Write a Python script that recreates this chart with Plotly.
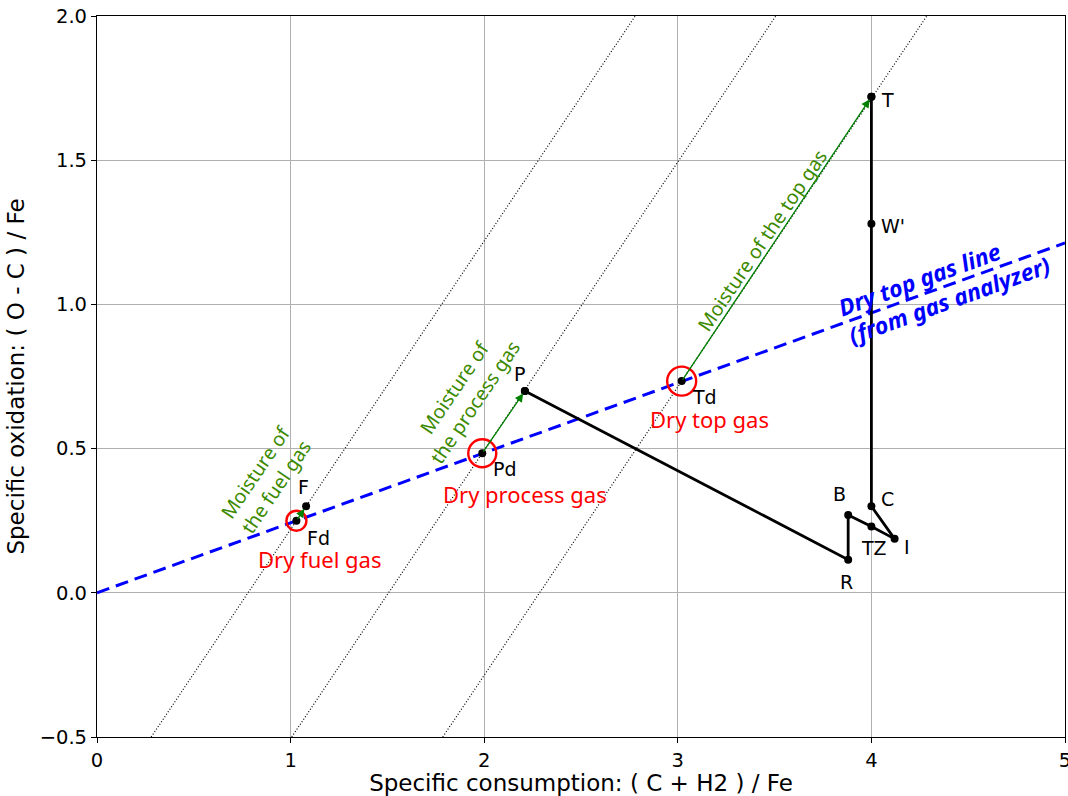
import plotly.graph_objects as go

# ---- data ----
path_labels = ["P", "R", "B", "TZ", "I", "C", "W'", "T"]
path_x = [2.21, 3.88, 3.88, 4.00, 4.12, 4.00, 4.00, 4.00]
path_y = [0.70, 0.115, 0.27, 0.23, 0.187, 0.30, 1.28, 1.72]

wet_labels = ["F", "P", "T"]
wet_x = [1.08, 2.21, 4.00]
wet_y = [0.30, 0.70, 1.72]

dry_labels = ["Fd", "Pd", "Td"]
dry_x = [1.03, 1.99, 3.02]
dry_y = [0.25, 0.484, 0.734]
dry_names = ["Dry fuel gas", "Dry process gas", "Dry top gas"]
dry_circle_size = [20, 28, 29]
moist_texts = ["Moisture of<br>the fuel gas", "Moisture of<br>the process gas", "Moisture of the top gas"]

dry_line_slope = 0.2426
x_range = [0, 5]
y_range = [-0.5, 2.0]
x_ticks = [0, 1, 2, 3, 4, 5]
y_ticks = [-0.5, 0.0, 0.5, 1.0, 1.5, 2.0]

LBL = "DejaVu Sans"
TXT = "Noto Sans"

fig = go.Figure()

# dotted iso-lines of slope 1 through dry points
for dx, dy in zip(dry_x, dry_y):
    c = dx - dy
    fig.add_trace(go.Scatter(x=[y_range[0] + c, y_range[1] + c], y=y_range, mode="lines",
                             line=dict(color="black", width=1.2, dash="1px,2px"), showlegend=False,
                             hoverinfo="skip"))

# dry top gas line
fig.add_trace(go.Scatter(x=x_range, y=[x_range[0] * dry_line_slope, x_range[1] * dry_line_slope],
                         mode="lines", line=dict(color="blue", width=3, dash="13px,7px"),
                         showlegend=False, hoverinfo="skip", cliponaxis=False))

# process path
fig.add_trace(go.Scatter(x=path_x, y=path_y, mode="lines+markers",
                         line=dict(color="black", width=2.8),
                         marker=dict(color="black", size=8), showlegend=False))

# wet and dry points
fig.add_trace(go.Scatter(x=wet_x, y=wet_y, mode="markers", marker=dict(color="black", size=8),
                         showlegend=False))
fig.add_trace(go.Scatter(x=dry_x, y=dry_y, mode="markers", marker=dict(color="black", size=8),
                         showlegend=False))
# red circles
fig.add_trace(go.Scatter(x=dry_x, y=dry_y, mode="markers",
                         marker=dict(symbol="circle-open", color="red", size=dry_circle_size,
                                     opacity=1, line=dict(width=2.4, color="red")),
                         showlegend=False))

ann = []
# moisture arrows
for dx, dy, wx, wy in zip(dry_x, dry_y, wet_x, wet_y):
    ann.append(dict(x=wx, y=wy, ax=dx, ay=dy, xref="x", yref="y", axref="x", ayref="y",
                    text="", showarrow=True, arrowhead=2, arrowsize=1.3, arrowwidth=1.3,
                    arrowcolor="green", standoff=3))

# point labels
label_shift = {"P": (-5, 17), "R": (-2, -22), "B": (-9, 21), "TZ": (3, -22), "I": (12, -8),
               "C": (16, 7), "W'": (22, -2), "T": (16, -3), "F": (-3, 19),
               "Fd": (22, -17), "Pd": (23, -16), "Td": (23, -16)}
all_pts = {}
for n, x, y in zip(path_labels, path_x, path_y):
    all_pts[n] = (x, y)
for n, x, y in zip(wet_labels, wet_x, wet_y):
    all_pts[n] = (x, y)
for n, x, y in zip(dry_labels, dry_x, dry_y):
    all_pts[n] = (x, y)
for n, (sx, sy) in label_shift.items():
    x, y = all_pts[n]
    ann.append(dict(x=x, y=y, xref="x", yref="y", text=n, showarrow=False, xshift=sx, yshift=sy,
                    font=dict(family=LBL, size=19, color="black")))

# red dry-gas labels
red_shift = [(23, -38), (43, -41), (28, -38)]
for name, x, y, (sx, sy) in zip(dry_names, dry_x, dry_y, red_shift):
    ann.append(dict(x=x, y=y, xref="x", yref="y", text=name, showarrow=False, xshift=sx, yshift=sy,
                    font=dict(family=TXT, size=22, color="red")))

# green moisture texts
green_shift = [(-31, 42), (-18, 58), (80, 141)]
for t, x, y, (sx, sy) in zip(moist_texts, dry_x, dry_y, green_shift):
    ann.append(dict(x=x, y=y, xref="x", yref="y", text=t, showarrow=False, xshift=sx, yshift=sy,
                    textangle=-56, font=dict(family=TXT, size=19.5, color="#3c8a00")))

# blue line label
ann.append(dict(x=4.5, y=4.5 * dry_line_slope, xref="x", yref="y",
                text="<b><i>Dry top gas line<br>(from gas analyzer)</i></b>", showarrow=False,
                xshift=-24, yshift=-8, textangle=-20, align="left",
                font=dict(family=TXT, size=23, color="blue")))

axis_common = dict(showline=True, linecolor="black", linewidth=1.2, mirror=True,
                   showgrid=True, gridcolor="#b0b0b0", gridwidth=1, zeroline=False,
                   ticks="outside", ticklen=5, tickcolor="black", ticklabeloverflow="allow",
                   automargin=False,
                   tickfont=dict(family=LBL, size=19.5, color="black"))

fig.update_layout(
    width=1068, height=796,
    margin=dict(l=97, r=3, t=16, b=59),
    plot_bgcolor="white", paper_bgcolor="white",
    xaxis=dict(range=x_range, tickvals=x_ticks, ticktext=[str(v) for v in x_ticks],
               title=dict(text="Specific consumption: ( C + H2 ) / Fe",
                          font=dict(family=LBL, size=23, color="black"), standoff=6),
               **axis_common),
    yaxis=dict(range=y_range, tickvals=y_ticks, ticktext=["\u22120.5", "0.0", "0.5", "1.0", "1.5", "2.0"],
               title=dict(text="Specific oxidation: ( O - C ) / Fe",
                          font=dict(family=LBL, size=23, color="black"), standoff=8),
               **axis_common),
    annotations=ann,
)

fig.write_html("out.html")
